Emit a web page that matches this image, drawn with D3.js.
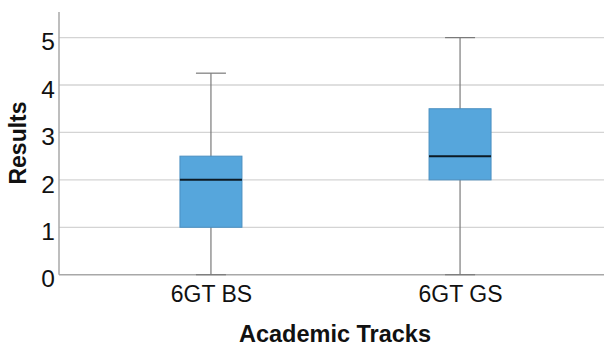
<!DOCTYPE html>
<html><head><meta charset="utf-8">
<script src="https://cdn.jsdelivr.net/npm/d3@7"></script>
<style>html,body{margin:0;padding:0;background:#fff;}svg{display:block;}</style>
</head><body>
<svg id="c" width="604" height="346"></svg>
<script>
const categories = ["6GT BS", "6GT GS"];
const mins = [0, 0];
const q1s = [1, 2];
const medians = [2, 2.5];
const q3s = [2.5, 3.5];
const maxs = [4.25, 5];
const yTicks = [0, 1, 2, 3, 4, 5];
const xTitle = "Academic Tracks";
const yTitle = "Results";

(function(){
const W = 604, H = 346;
const mLeft = 59, mBottom = 274.7, mTop = 12;
const svg = d3.select("#c");
const font = "'Liberation Sans', Arial, sans-serif";

const y = d3.scaleLinear().domain([0, 5.54]).range([mBottom, mTop]);
const x = d3.scalePoint().domain(categories).range([mLeft, 612]).padding(0.61);

// gridlines
svg.append("g").selectAll("line").data(yTicks.filter(d => d > 0)).join("line")
  .attr("x1", mLeft).attr("x2", W).attr("y1", d => y(d)).attr("y2", d => y(d))
  .attr("stroke", "#d4d4d4").attr("stroke-width", 1.3);

// axes
const yAxis = d3.axisLeft(y).tickValues(yTicks).tickSize(0).tickPadding(4).tickFormat(d3.format("d"));
const gy = svg.append("g").attr("transform", `translate(${mLeft},0)`).call(yAxis);
gy.select(".domain").remove();
gy.selectAll("text").attr("font-family", font).attr("font-size", 24.5).attr("fill", "#111").attr("dy", "0.5em");

const xAxis = d3.axisBottom(x).tickSize(0);
const gx = svg.append("g").attr("transform", `translate(0,${mBottom})`).call(xAxis);
gx.select(".domain").remove();
gx.selectAll("text").attr("font-family", font).attr("font-size", 23).attr("fill", "#111")
  .attr("y", 27.6).attr("dy", 0);

svg.append("line").attr("x1", mLeft).attr("x2", mLeft).attr("y1", mTop).attr("y2", mBottom)
  .attr("stroke", "#a8a8a8").attr("stroke-width", 1.5);
svg.append("line").attr("x1", mLeft).attr("x2", W).attr("y1", mBottom).attr("y2", mBottom)
  .attr("stroke", "#a8a8a8").attr("stroke-width", 1.5);

// boxes
const boxW = 62, capW = 30;
const data = categories.map((c, i) => ({c, min: mins[i], q1: q1s[i], med: medians[i], q3: q3s[i], max: maxs[i]}));
const g = svg.append("g").selectAll("g").data(data).join("g");
g.append("line").attr("x1", d => x(d.c)).attr("x2", d => x(d.c))
  .attr("y1", d => y(d.min)).attr("y2", d => y(d.max)).attr("stroke", "#7a7a7a").attr("stroke-width", 1.2);
g.append("line").attr("x1", d => x(d.c) - capW/2).attr("x2", d => x(d.c) + capW/2)
  .attr("y1", d => y(d.max)).attr("y2", d => y(d.max)).attr("stroke", "#7a7a7a").attr("stroke-width", 1.2);
g.append("line").attr("x1", d => x(d.c) - capW/2).attr("x2", d => x(d.c) + capW/2)
  .attr("y1", d => y(d.min)).attr("y2", d => y(d.min)).attr("stroke", "#7a7a7a").attr("stroke-width", 1.2);
g.append("rect").attr("x", d => x(d.c) - boxW/2).attr("width", boxW)
  .attr("y", d => y(d.q3)).attr("height", d => y(d.q1) - y(d.q3))
  .attr("fill", "#56a6dc").attr("stroke", "#4a8fc0").attr("stroke-width", 1);
g.append("line").attr("x1", d => x(d.c) - boxW/2).attr("x2", d => x(d.c) + boxW/2)
  .attr("y1", d => y(d.med)).attr("y2", d => y(d.med)).attr("stroke", "#0d1a24").attr("stroke-width", 2);

// titles
svg.append("text").attr("x", 335).attr("y", 341.5).attr("text-anchor", "middle")
  .attr("font-family", font).attr("font-weight", "bold").attr("font-size", 23.5).attr("fill", "#111").text(xTitle);
svg.append("text").attr("transform", `translate(26,143) rotate(-90)`).attr("text-anchor", "middle")
  .attr("font-family", font).attr("font-weight", "bold").attr("font-size", 23).attr("fill", "#111").text(yTitle);
})();
</script>
</body></html>
